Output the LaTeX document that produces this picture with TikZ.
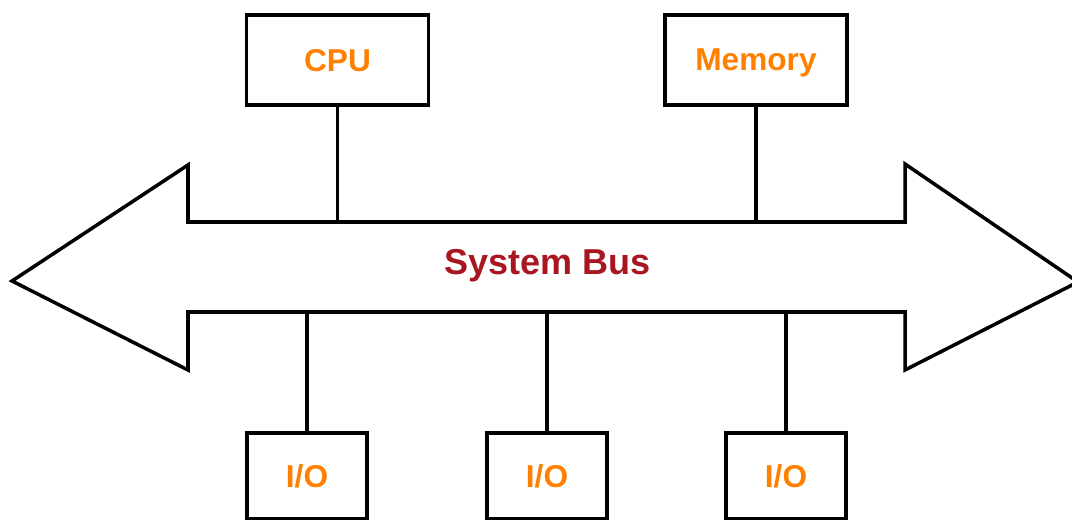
\documentclass[tikz,border=0pt]{standalone}
\usepackage{fontspec}
\setmainfont{Liberation Sans}
\usepackage{tikz}
\usetikzlibrary{positioning}

\definecolor{unitorange}{RGB}{255,128,0}
\definecolor{busred}{RGB}{168,22,34}

\tikzset{
  unit/.style={draw, line width=2.2pt, inner sep=0pt, minimum width=3.64cm,
    minimum height=1.8cm, text depth=0pt, text=unitorange,
    font=\fontsize{18}{21}\selectfont\bfseries},
  iounit/.style={unit, minimum width=2.4cm, minimum height=1.72cm},
  wire/.style={line width=2pt}
}

\begin{document}
\begin{tikzpicture}[x=0.02cm, y=-0.02cm]
        \useasboundingbox (0,0) rectangle (1072,520);
        % units on the bus
        \node[unit] (CPU) at (337.5,60) {CPU};
        \node[unit] (Mem) at (756,60) {Memory};
        \node[iounit] (IO1) at (307,476) {I/O};
        \node[iounit] (IO2) at (547,476) {I/O};
        \node[iounit] (IO3) at (786,476) {I/O};
        % the bus
        \draw[line width=2pt, line join=miter] (12,281) -- (188,165) -- (188,222)
            -- (905,222) -- (905,164) -- (1078,282) -- (905,370) -- (905,312)
            -- (188,312) -- (188,370) -- cycle;
        \coordinate (BusTop) at (0,222);
        \coordinate (BusBot) at (0,312);
        \node[text=busred, text depth=0pt, font=\fontsize{20.5}{24}\selectfont\bfseries] (Bus) at (547.5,262) {System Bus};
        % taps
        \draw[wire] (CPU) -- (CPU |- BusTop);
        \draw[wire] (Mem) -- (Mem |- BusTop);
        \draw[wire] (IO1) -- (IO1 |- BusBot);
        \draw[wire] (IO2) -- (IO2 |- BusBot);
        \draw[wire] (IO3) -- (IO3 |- BusBot);
    \end{tikzpicture}
\end{document}
